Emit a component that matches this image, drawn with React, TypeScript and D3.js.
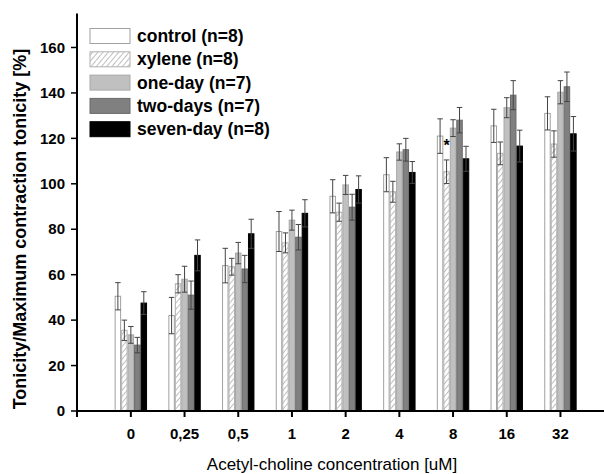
import React from 'react';
import * as d3 from 'd3';

const categories = ['0', '0,25', '0,5', '1', '2', '4', '8', '16', '32'];
const seriesNames = ['control (n=8)', 'xylene (n=8)', 'one-day (n=7)', 'two-days (n=7)', 'seven-day (n=8)'];

const control = [50.5, 42, 64, 79, 94.5, 104, 121, 125.5, 131];
const xylene = [35.5, 56, 63.5, 74, 87.5, 96.5, 105.3, 113.4, 117.5];
const oneDay = [33.5, 58, 69.5, 84, 99.5, 114, 124.5, 133.5, 140.3];
const twoDays = [29, 51, 62.5, 76.5, 89.7, 115, 128, 139, 142.7];
const sevenDay = [47.5, 68.5, 78, 87, 97.5, 105, 111, 116.6, 122];

const controlErr = [6, 8, 7.6, 8.8, 7.3, 7.5, 7.6, 7.3, 7.3];
const xyleneErr = [4.5, 4, 3.7, 4.4, 4, 4.6, 5.2, 5, 5.8];
const oneDayErr = [3.7, 5.7, 4.7, 4.4, 4.2, 3.6, 3.7, 4.4, 5.1];
const twoDaysErr = [3.4, 6.2, 6, 5.6, 5.7, 5, 5.6, 6.4, 6.5];
const sevenDayErr = [5, 6.8, 6.4, 6, 6, 4.8, 5.5, 7, 7.6];

const yTicks = [0, 20, 40, 60, 80, 100, 120, 140, 160];
const asteriskAt = { category: '8', series: 1 };

const values = [control, xylene, oneDay, twoDays, sevenDay];
const errors = [controlErr, xyleneErr, oneDayErr, twoDaysErr, sevenDayErr];
const fills = ['#ffffff', 'url(#hatch)', '#c0c0c0', '#808080', '#000000'];
const strokes = ['#a0a0a0', '#b0b0b0', '#a8a8a8', '#6a6a6a', '#000000'];

const width = 604;
const height = 474;
const axisX = 77;
const axisY = 411;
const font = 'Arial, "Liberation Sans", sans-serif';

export default function App() {
  const y = d3.scaleLinear().domain([0, 175]).range([axisY, axisY - 175 * 2.272]);
  const x = d3.scaleBand().domain(categories).range([104, 104 + 9 * 53.7]).padding(0);
  const groupW = 32.4;
  const xs = d3.scaleBand().domain(seriesNames).range([0, groupW]).padding(0);
  const bw = xs.bandwidth();

  return (
    <svg width={width} height={height} style={{ position: 'absolute', left: 0, top: 0 }} fontFamily={font}>
      <defs>
        <pattern id="hatch" width="4" height="4" patternUnits="userSpaceOnUse" patternTransform="rotate(40)">
          <rect width="4" height="4" fill="#fff" />
          <line x1="0" y1="0" x2="0" y2="4" stroke="#707070" strokeWidth="0.9" />
        </pattern>
      </defs>
      <rect width={width} height={height} fill="#fff" />

      {categories.map((c, i) => {
        const gx = (x(c) as number) + x.bandwidth() / 2 - groupW / 2;
        return (
          <g key={c} transform={`translate(${gx},0)`}>
            {seriesNames.map((s, k) => {
              const v = values[k][i];
              const e = errors[k][i];
              const bx = xs(s) as number;
              const cx = bx + bw / 2;
              return (
                <g key={s}>
                  <rect x={bx + 0.5} y={y(v)} width={bw - 1} height={axisY - y(v)} fill={fills[k]} stroke={strokes[k]} strokeWidth={1} />
                  <line x1={cx} x2={cx} y1={y(v + e)} y2={y(v - e)} stroke="#444" strokeWidth={1} />
                  <line x1={bx + 0.5} x2={bx + bw - 0.5} y1={y(v + e)} y2={y(v + e)} stroke="#444" strokeWidth={1} />
                  <line x1={bx + 0.5} x2={bx + bw - 0.5} y1={y(v - e)} y2={y(v - e)} stroke="#444" strokeWidth={1} />
                  {c === asteriskAt.category && k === asteriskAt.series && (
                    <text x={cx} y={y(v + e + 4)} textAnchor="middle" fontSize={16} fontWeight="bold">*</text>
                  )}
                </g>
              );
            })}
          </g>
        );
      })}

      {/* axes */}
      <line x1={axisX} x2={axisX} y1={y(175)} y2={axisY + 1} stroke="#000" strokeWidth={2} />
      <line x1={axisX - 1} x2={width} y1={axisY} y2={axisY} stroke="#000" strokeWidth={2} />
      {yTicks.map(t => (
        <g key={t}>
          <line x1={axisX - 6} x2={axisX} y1={y(t)} y2={y(t)} stroke="#000" strokeWidth={1.5} />
          <text x={axisX - 12} y={y(t)} dy="0.35em" textAnchor="end" fontSize={15} fontWeight="bold">{t}</text>
        </g>
      ))}
      <line x1={axisX} x2={axisX} y1={axisY} y2={axisY + 6} stroke="#000" strokeWidth={2} />
      {categories.map(c => {
        const cx = (x(c) as number) + x.bandwidth() / 2;
        return (
          <g key={c}>
            <line x1={cx} x2={cx} y1={axisY} y2={axisY + 6} stroke="#000" strokeWidth={2} />
            <text x={cx} y={438.5} textAnchor="middle" fontSize={15} fontWeight="bold">{c}</text>
          </g>
        );
      })}

      <text x={332} y={470} textAnchor="middle" fontSize={17}>Acetyl-choline concentration [uM]</text>
      <text transform="translate(26,229) rotate(-90)" textAnchor="middle" fontSize={18} fontWeight="bold">
        Tonicity/Maximum contraction tonicity [%]
      </text>

      {/* legend */}
      {seriesNames.map((s, k) => {
        const ly = 28.5 + k * 23.3;
        return (
          <g key={s}>
            <rect x={90} y={ly} width={40} height={15} fill={fills[k]} stroke={strokes[k]} strokeWidth={1} />
            <text x={137} y={ly + 7.5} dy="0.35em" fontSize={17.5} fontWeight="bold">{s}</text>
          </g>
        );
      })}
    </svg>
  );
}
